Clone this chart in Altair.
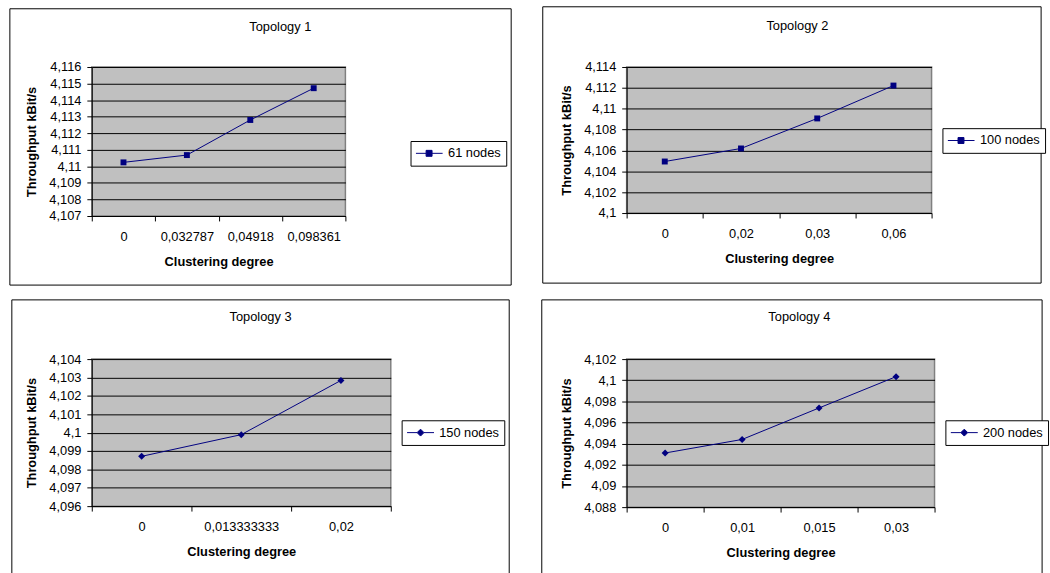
import json
import altair as alt
import pandas as pd

FONT = "Liberation Sans"
NAVY = "#000080"

# ---------------- data ----------------
titles = ["Topology 1", "Topology 2", "Topology 3", "Topology 4"]
series_names = ["61 nodes", "100 nodes", "150 nodes", "200 nodes"]

cats1 = ["0", "0,032787", "0,04918", "0,098361"]
vals1 = [4.11024, 4.11068, 4.1128, 4.11472]
yticks1 = [4.107, 4.108, 4.109, 4.110, 4.111, 4.112, 4.113, 4.114, 4.115, 4.116]

cats2 = ["0", "0,02", "0,03", "0,06"]
vals2 = [4.10494, 4.10619, 4.10907, 4.11222]
yticks2 = [4.100, 4.102, 4.104, 4.106, 4.108, 4.110, 4.112, 4.114]

cats3 = ["0", "0,013333333", "0,02"]
vals3 = [4.09871, 4.09989, 4.10284]
yticks3 = [4.096, 4.097, 4.098, 4.099, 4.100, 4.101, 4.102, 4.103, 4.104]

cats4 = ["0", "0,01", "0,015", "0,03"]
vals4 = [4.09312, 4.0944, 4.09738, 4.10034]
yticks4 = [4.088, 4.090, 4.092, 4.094, 4.096, 4.098, 4.100, 4.102]

# legend glyphs: a line with a marker on it (unit = 7 px)
SQUARE_LEG = "M-1,0H0.47M1.33,0H2.86M0.47,-0.43H1.33V0.43H0.47Z"
DIAMOND_LEG = "M-1,0H0.45M1.45,0H2.9M0.95,-0.5L1.45,0L0.95,0.5L0.45,0Z"

# layout per panel (pixels relative to plot origin)
layouts = [
    dict(w=257, h=151, frame=(-83, 425, -59, 221), leg=(323, 75), tdx=62.5, toff=-36,
         shape="square", msize=36, legpath=SQUARE_LEG),
    dict(w=309, h=148, frame=(-85, 420, -61, 219), leg=(320, 62), tdx=18.5, toff=-37,
         shape="square", msize=36, legpath=SQUARE_LEG),
    dict(w=303, h=149, frame=(-81, 423, -60, 221), leg=(314, 62), tdx=19.5, toff=-35,
         shape="diamond", msize=50, legpath=DIAMOND_LEG),
    dict(w=312, h=150, frame=(-86, 421, -60, 221), leg=(323, 62), tdx=19, toff=-35,
         shape="diamond", msize=50, legpath=DIAMOND_LEG),
]


def make_panel(title, series, cats, vals, yticks, lay):
    n = len(cats)
    df = pd.DataFrame({"idx": list(range(n)), "val": vals, "series": [series] * n})
    xvals = [i * 0.5 - 0.5 for i in range(2 * n + 1)]
    x_label_expr = "datum.value % 1 === 0 ? " + json.dumps(cats) + "[datum.value] : ''"
    x = alt.X(
        "idx:Q",
        scale=alt.Scale(domain=[-0.5, n - 0.5], nice=False, zero=False),
        axis=alt.Axis(
            values=xvals, labelExpr=x_label_expr, title="Clustering degree",
            grid=False, tickSize=5, tickColor="black",
            tickOpacity={"condition": {"test": "datum.value % 1 === 0", "value": 0}, "value": 1},
            domainColor="black", labelFont=FONT, labelFontSize=13, labelColor="black",
            labelPadding=10, labelFlush=False, labelOverlap=False, labelAngle=0,
            titleFont=FONT, titleFontSize=13, titleFontWeight="bold", titleColor="black",
            titlePadding=12,
        ),
    )
    y = alt.Y(
        "val:Q",
        scale=alt.Scale(domain=[yticks[0], yticks[-1]], nice=False, zero=False),
        axis=alt.Axis(
            values=yticks, labelExpr="replace(format(datum.value, '.3~f'), '.', ',')",
            title="Throughput kBit/s", grid=True, gridColor="black", gridWidth=1, gridOpacity=1,
            tickSize=5, tickColor="black", domainColor="black",
            labelFont=FONT, labelFontSize=13, labelColor="black", labelPadding=6,
            labelFlush=False, labelOverlap=False,
            titleFont=FONT, titleFontSize=13, titleFontWeight="bold", titleColor="black",
            titlePadding=10,
        ),
    )
    base = alt.Chart(df)
    line = base.mark_line(color=NAVY, strokeWidth=1).encode(x=x, y=y)
    pts = base.mark_point(filled=True, shape=lay["shape"], size=lay["msize"], opacity=1).encode(
        x=x, y=y,
        color=alt.Color(
            "series:N", scale=alt.Scale(range=[NAVY]),
            legend=alt.Legend(
                title=None, orient="none", legendX=lay["leg"][0], legendY=lay["leg"][1],
                strokeColor="black", fillColor="white", padding=5,
                symbolType=lay["legpath"], symbolSize=196, symbolStrokeWidth=1,
                symbolStrokeColor=NAVY, labelFont=FONT, labelFontSize=13, labelColor="black",
                labelOffset=18,
            ),
        ),
    )
    fx1, fx2, fy1, fy2 = lay["frame"]
    frame = alt.Chart(pd.DataFrame({"f": [0]})).mark_rect(
        fill="transparent", stroke="black", strokeWidth=1
    ).encode(x=alt.value(fx1), x2=alt.value(fx2), y=alt.value(fy1), y2=alt.value(fy2))
    return alt.layer(frame, line, pts).properties(
        width=lay["w"], height=lay["h"],
        title=alt.TitleParams(
            text=title, font=FONT, fontSize=13, fontWeight="normal", color="black",
            anchor="middle", frame="group", dx=lay["tdx"], offset=lay["toff"],
            baseline="alphabetic",
        ),
    )


p1 = make_panel(titles[0], series_names[0], cats1, vals1, yticks1, layouts[0])
p2 = make_panel(titles[1], series_names[1], cats2, vals2, yticks2, layouts[1])
p3 = make_panel(titles[2], series_names[2], cats3, vals3, yticks3, layouts[2])
p4 = make_panel(titles[3], series_names[3], cats4, vals4, yticks4, layouts[3])

chart = alt.vconcat(
    alt.hconcat(p1, p2, spacing=28).resolve_scale(color="independent"),
    alt.hconcat(p3, p4, spacing=29).resolve_scale(color="independent"),
    spacing=11,
).resolve_scale(
    color="independent"
).properties(
    padding={"left": 8, "top": 1, "right": 0, "bottom": 0},
    background="white",
).configure_view(
    fill="#C0C0C0", stroke="#808080", strokeWidth=1.5
)

chart.save("out.html", embed_options={"renderer": "svg", "actions": False})
